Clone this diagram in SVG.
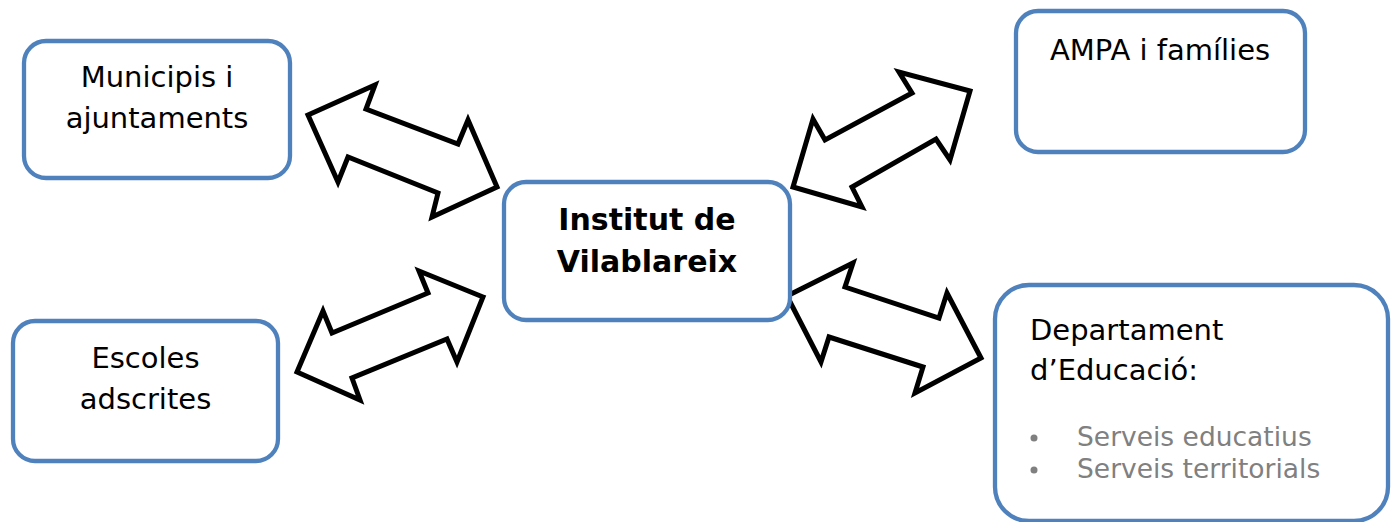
<svg xmlns="http://www.w3.org/2000/svg" width="1399" height="522" viewBox="0 0 1399 522">
<style>
.box{fill:#fff;stroke:#4f81bd;stroke-width:4.3}
.arr{fill:#fff;stroke:#000;stroke-width:5;stroke-linejoin:miter;stroke-miterlimit:10}
.t{font-family:"DejaVu Sans",Verdana,sans-serif;font-size:29px;fill:#000}
.b{font-weight:bold;font-size:30px}
.g{fill:#808080}
.s{font-size:26.5px}
.m{text-anchor:middle}
</style>
<rect width="1399" height="522" fill="#fff"/>
<g id="connectors">
<polygon class="arr" points="308,115 375,85 366,109 458,144 468,120 497,187 432,217 438,193 348,157 338,182"/>
<polygon class="arr" points="483,297 419,271 428,293 332,333 323,311 297,372 360,400 352,378 447,339 457,362"/>
<polygon class="arr" points="970,91 899,72 912,93 825,140 813,119 793,187 862,207 852,187 936,139 950,160"/>
<polygon class="arr" points="787,296 853,263 845,287 939,318 947,293 981,358 915,393 923,367 829,337 821,362"/>
</g>
<g id="municipis">
<rect class="box" x="24" y="41" width="266" height="137" rx="22"/>
<text class="t m" x="157" y="87">Municipis i</text>
<text class="t m" x="157" y="128">ajuntaments</text>
</g>
<g id="escoles">
<rect class="box" x="13" y="321" width="265" height="140" rx="22"/>
<text class="t m" x="145.5" y="368">Escoles</text>
<text class="t m" x="145.5" y="409">adscrites</text>
</g>
<g id="ampa">
<rect class="box" x="1016" y="11" width="289" height="141" rx="22"/>
<text class="t m" x="1160" y="60">AMPA i famílies</text>
</g>
<g id="institut">
<rect class="box" x="504" y="182" width="286" height="138" rx="22"/>
<text class="t b m" x="647" y="230">Institut de</text>
<text class="t b m" x="647" y="272">Vilablareix</text>
</g>
<g id="departament">
<rect class="box" x="995" y="285" width="393" height="236" rx="34"/>
<text class="t" x="1030" y="340">Departament</text>
<text class="t" x="1030" y="380">d’Educació:</text>
<circle class="g" cx="1034" cy="438" r="3.5"/>
<circle class="g" cx="1034" cy="470" r="3.5"/>
<text class="t g s" x="1077" y="446">Serveis educatius</text>
<text class="t g s" x="1077" y="478">Serveis territorials</text>
</g>
</svg>
